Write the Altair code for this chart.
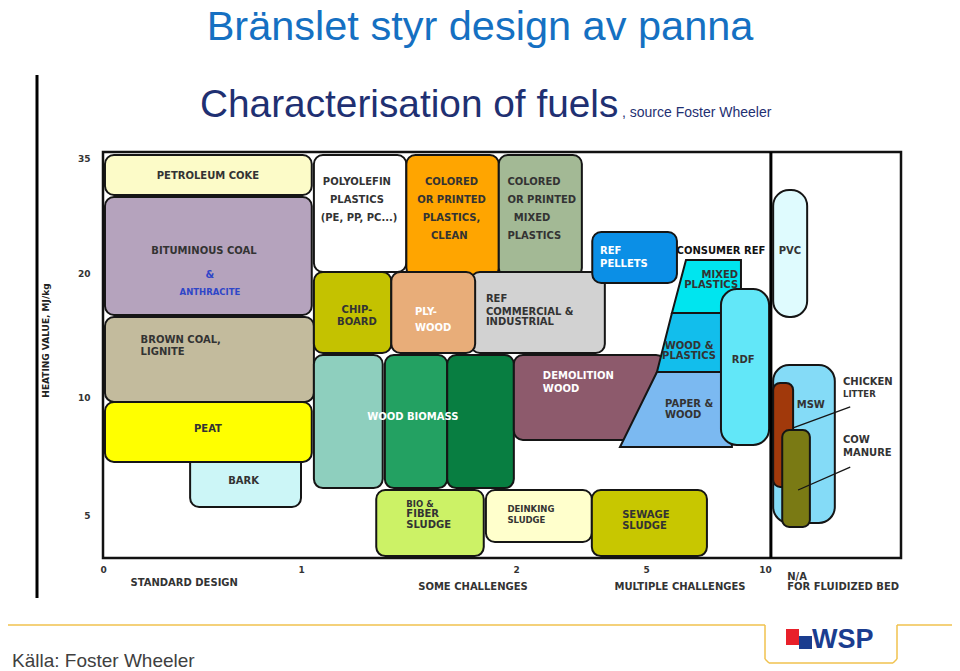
import altair as alt
import pandas as pd

# ---------------- axis ticks (non-linear, as printed in the figure) ----------------
X_TICKS = [0, 1, 2, 5, 10]
Y_TICKS = [5, 10, 20, 35]
X_BREAKS = [0, 1, 2, 5, 10, 13]
Y_BREAKS = [3.2, 5, 10, 20, 35, 35.8]
DIVIDER_X = [10.13]

# ---------------- fuel boxes: design range (x) and heating value range (y) ----------------
box_name = ["Petroleum coke", "Bituminous coal", "Brown coal", "Bark", "Peat",
            "Polyolefin plastics", "Colored plastics clean", "Colored mixed plastics",
            "REF commercial", "Chipboard", "Plywood", "REF pellets",
            "Wood biomass 1", "Wood biomass 2", "Wood biomass 3", "Demolition wood",
            "Bio & fiber sludge", "Deinking sludge", "Sewage sludge"]
box_x_lo = [0.01, 0.01, 0.01, 0.44, 0.01, 1.06, 1.49, 1.92, 1.79, 1.06, 1.42, 3.76,
            1.06, 1.39, 1.68, 1.99, 1.35, 1.86, 3.75]
box_x_hi = [1.05, 1.05, 1.06, 1.00, 1.05, 1.49, 1.92, 3.52, 4.05, 1.42, 1.81, 6.30,
            1.38, 1.68, 1.99, 5.80, 1.85, 3.75, 7.56]
box_y_lo = [30.17, 16.61, 9.79, 5.34, 7.25, 20.13, 19.68, 19.68, 13.55, 13.55, 13.55, 19.19,
            6.14, 6.14, 6.14, 8.18, 3.28, 3.87, 3.28]
box_y_hi = [35.4, 29.91, 16.45, 7.6, 9.79, 35.4, 35.4, 35.4, 20.13, 20.13, 20.13, 25.35,
            13.39, 13.39, 13.39, 13.39, 6.06, 6.06, 6.06]
box_fill = ["#FCFBC8", "#B5A3BD", "#C3BB9D", "#CCF6F7", "#FFFF00",
            "#FFFFFF", "#FFA500", "#A3B995",
            "#D2D2D2", "#C4C200", "#E8AD79", "#0B8FE6",
            "#8ECFBE", "#23A162", "#087E41", "#8D5A6C",
            "#CCF266", "#FFFFCC", "#C8C700"]

# consumer REF (slanted shapes)
trap_name = ["Mixed plastics", "Mixed plastics", "Wood & plastics", "Wood & plastics",
             "Paper & wood", "Paper & wood"]
trap_y = [21.70, 16.77, 16.77, 12.02, 12.02, 7.88]
trap_x_left = [6.68, 6.09, 6.09, 5.46, 5.46, 4.40]
trap_x_right = [8.99, 8.99, 8.61, 8.61, 8.61, 8.61]
trap_fill = ["#00E5EF", "#00E5EF", "#12BEEC", "#12BEEC", "#7BB9F1", "#7BB9F1"]

# pill shaped fuels
pill_name = ["PVC", "RDF", "MSW"]
pill_x_lo = [10.18, 8.15, 10.18]
pill_x_hi = [10.93, 10.09, 11.54]
pill_y_lo = [16.45, 7.97, 4.67]
pill_y_hi = [30.83, 18.71, 12.58]
pill_fill = ["#DFFBFE", "#62E7F8", "#84DBF7"]

small_name = ["Chicken litter", "Cow manure"]
small_x_lo = [10.18, 10.38]
small_x_hi = [10.62, 10.99]
small_y_lo = [6.19, 4.50]
small_y_hi = [11.13, 8.60]
small_fill = ["#A1390B", "#7A7A14"]

# leader lines from the side labels
lead_x1 = [11.88, 11.88]
lead_y1 = [9.58, 7.03]
lead_x2 = [10.62, 10.73]
lead_y2 = [8.69, 6.06]

# ---------------- labels ----------------
label_text = ["PETROLEUM COKE", "BITUMINOUS COAL", "&", "ANTHRACITE", "BROWN COAL,", "LIGNITE",
              "PEAT", "BARK",
              "POLYOLEFIN", "PLASTICS", "(PE, PP, PC...)",
              "COLORED", "OR PRINTED", "PLASTICS,", "CLEAN",
              "COLORED", "OR PRINTED", "MIXED", "PLASTICS",
              "CHIP-", "BOARD", "PLY-", "WOOD",
              "REF", "COMMERCIAL &", "INDUSTRIAL",
              "REF", "PELLETS", "CONSUMER REF", "MIXED", "PLASTICS",
              "WOOD &", "PLASTICS", "PAPER &", "WOOD", "RDF", "PVC",
              "WOOD BIOMASS", "DEMOLITION", "WOOD",
              "BIO &", "FIBER", "SLUDGE", "DEINKING", "SLUDGE", "SEWAGE", "SLUDGE",
              "MSW", "CHICKEN", "LITTER", "COW", "MANURE",
              "STANDARD DESIGN", "SOME CHALLENGES", "MULTIPLE CHALLENGES", "N/A",
              "FOR FLUIDIZED BED"]
label_x = [0.53, 0.51, 0.54, 0.54, 0.19, 0.19,
           0.53, 0.71,
           1.26, 1.26, 1.27,
           1.70, 1.70, 1.70, 1.69,
           1.96, 1.96, 1.99, 1.96,
           1.26, 1.26, 1.53, 1.53,
           1.86, 1.86, 1.86,
           3.94, 3.94, 8.15, 8.87, 8.87,
           6.81, 6.81, 5.80, 5.80, 9.08, 10.55,
           1.52, 2.62, 2.62,
           1.49, 1.49, 1.49, 1.96, 1.96, 4.45, 4.45,
           11.01, 11.72, 11.72, 11.72, 11.72,
           0.41, 1.80, 6.43, 10.49, 10.49]
label_y = [32.65, 22.87, 19.84, 18.47, 14.60, 13.63,
           8.64, 6.44,
           31.87, 29.52, 27.17,
           31.87, 29.52, 27.17, 24.83,
           31.87, 29.52, 27.17, 24.83,
           17.02, 16.05, 16.85, 15.56,
           17.90, 16.85, 16.05,
           22.87, 21.17, 22.87, 19.84, 19.03,
           14.11, 13.31, 9.70, 9.24, 12.98, 22.87,
           9.15, 11.69, 10.65,
           5.47, 5.04, 4.58, 5.25, 4.79, 5.00, 4.54,
           9.66, 11.21, 10.24, 8.18, 7.63,
           2.15, 1.99, 1.99, 2.40, 1.99]
label_align = ["center", "center", "center", "center", "left", "left",
               "center", "center",
               "center", "center", "center",
               "center", "center", "center", "center",
               "left", "left", "left", "left",
               "center", "center", "left", "left",
               "left", "left", "left",
               "left", "left", "center", "right", "right",
               "center", "center", "left", "left", "center", "center",
               "center", "left", "left",
               "left", "left", "left", "left", "left", "left", "left",
               "center", "left", "left", "left", "left",
               "center", "center", "center", "left", "left"]
label_tone = ["dark", "dark", "blue", "blue", "dark", "dark",
              "dark", "dark",
              "dark", "dark", "dark",
              "dark", "dark", "dark", "dark",
              "dark", "dark", "dark", "dark",
              "dark", "dark", "white", "white",
              "dark", "dark", "dark",
              "white", "white", "black", "dark", "dark",
              "dark", "dark", "dark", "dark", "dark", "dark",
              "white", "white", "white",
              "dark", "dark", "dark", "dark", "dark", "dark", "dark",
              "dark", "dark", "dark", "dark", "dark",
              "dark", "dark", "dark", "dark", "dark"]
label_class = ["n", "n", "n", "s", "n", "n",
               "n", "n",
               "n", "n", "n",
               "n", "n", "n", "n",
               "n", "n", "n", "n",
               "n", "n", "n", "n",
               "n", "n", "n",
               "n", "n", "n", "n", "n",
               "n", "n", "n", "n", "n", "n",
               "n", "n", "n",
               "s", "n", "n", "s", "s", "n", "n",
               "n", "n", "s", "n", "n",
               "n", "n", "n", "n", "n"]

TONES = {"dark": "#333333", "white": "#FFFFFF", "blue": "#2E46C8", "black": "#111111"}
SIZES = {"n": 10, "s": 8.5}

# ---------------- tables ----------------
box_df = pd.DataFrame({"name": box_name, "x1": box_x_lo, "x2": box_x_hi,
                       "y1": box_y_lo, "y2": box_y_hi, "fill": box_fill})
trap_df = pd.DataFrame({"name": trap_name, "y": trap_y, "xl": trap_x_left,
                        "xr": trap_x_right, "fill": trap_fill})
pill_df = pd.DataFrame({"name": pill_name, "x1": pill_x_lo, "x2": pill_x_hi,
                        "y1": pill_y_lo, "y2": pill_y_hi, "fill": pill_fill})
small_df = pd.DataFrame({"name": small_name, "x1": small_x_lo, "x2": small_x_hi,
                         "y1": small_y_lo, "y2": small_y_hi, "fill": small_fill})
lead_df = pd.DataFrame({"x1": lead_x1, "y1": lead_y1, "x2": lead_x2, "y2": lead_y2})
label_df = pd.DataFrame({"text": label_text, "x": label_x, "y": label_y, "align": label_align,
                         "color": [TONES[t] for t in label_tone],
                         "size": [SIZES[c] for c in label_class]})
div_df = pd.DataFrame({"x": DIVIDER_X})
one_row = pd.DataFrame({"k": [0]})

# ---------------- scales & axes ----------------
x_scale = alt.Scale(domain=X_BREAKS, range=[0, 198, 413, 543, 662, 798], nice=False, zero=False)
y_scale = alt.Scale(domain=Y_BREAKS, range=[406, 363, 245, 121, 6, 0], nice=False, zero=False)

x_axis = alt.Axis(values=X_TICKS, title=None, labelFont="DejaVu Sans", labelFontWeight="bold",
                  labelFontSize=9, labelColor="#333333", labelPadding=7, ticks=False,
                  domain=False, grid=False, labelFlush=False, labelOverlap=False)
y_axis = alt.Axis(values=Y_TICKS, title="HEATING VALUE, MJ/kg", titleX=-58, titleY=188,
                  titleAngle=270, titleAlign="center", titleBaseline="middle",
                  titleFont="DejaVu Sans", titleFontWeight="bold", titleFontSize=9,
                  titleColor="#222222", labelFont="DejaVu Sans", labelFontWeight="bold",
                  labelFontSize=9, labelColor="#333333", labelPadding=13, ticks=False,
                  domain=False, grid=False, labelFlush=False, labelOverlap=False)


def X(field, **kw):
    return alt.X(field, type="quantitative", scale=x_scale, axis=x_axis, **kw)


def Y(field):
    return alt.Y(field, type="quantitative", scale=y_scale, axis=y_axis)


STROKE = "#151515"

boxes = alt.Chart(box_df).mark_rect(cornerRadius=9, stroke=STROKE, strokeWidth=2).encode(
    x=X("x1"), x2="x2:Q", y=Y("y1"), y2="y2:Q",
    color=alt.Color("fill:N", scale=None),
)

traps = alt.Chart(trap_df).mark_area(orient="horizontal", stroke=STROKE, strokeWidth=2,
                                     interpolate="linear").encode(
    y=Y("y"), x=X("xl", stack=None), x2="xr:Q",
    detail="name:N",
    color=alt.Color("fill:N", scale=None),
)

pills = alt.Chart(pill_df).mark_rect(cornerRadius=16, stroke=STROKE, strokeWidth=2).encode(
    x=X("x1"), x2="x2:Q", y=Y("y1"), y2="y2:Q",
    color=alt.Color("fill:N", scale=None),
)

smalls = alt.Chart(small_df).mark_rect(cornerRadius=7, stroke=STROKE, strokeWidth=2).encode(
    x=X("x1"), x2="x2:Q", y=Y("y1"), y2="y2:Q",
    color=alt.Color("fill:N", scale=None),
)

divider = alt.Chart(div_df).mark_rule(color="#000000", strokeWidth=3).encode(x=X("x"))

leaders = alt.Chart(lead_df).mark_rule(color=STROKE, strokeWidth=1.3).encode(
    x=X("x1"), x2="x2:Q", y=Y("y1"), y2="y2:Q",
)

label_layers = []
for a in ["center", "left", "right"]:
    label_layers.append(
        alt.Chart(label_df).transform_filter(alt.datum.align == a).mark_text(
            align=a, baseline="middle", font="DejaVu Sans", fontWeight="bold").encode(
            x=X("x"), y=Y("y"),
            text="text:N",
            color=alt.Color("color:N", scale=None),
            size=alt.Size("size:Q", scale=None),
        )
    )


# ---------------- slide decorations (title, frame line, footer) ----------------
def deco_text(text, x, y, size, color, weight="normal", align="left"):
    return alt.Chart(one_row).mark_text(text=text, align=align, baseline="alphabetic",
                                        font="Liberation Sans", fontSize=size,
                                        fontWeight=weight, color=color).encode(
        x=alt.value(x), y=alt.value(y))


def deco_rule(x, x2, y, y2, color, width):
    return alt.Chart(one_row).mark_rule(color=color, strokeWidth=width).encode(
        x=alt.value(x), x2=alt.value(x2), y=alt.value(y), y2=alt.value(y2))


def deco_rect(x, x2, y, y2, color):
    return alt.Chart(one_row).mark_rect(color=color).encode(
        x=alt.value(x), x2=alt.value(x2), y=alt.value(y), y2=alt.value(y2))


GOLD = "#F0C24E"
decos = [
    deco_text("Bränslet styr design av panna", 377, -112, 41.5, "#1570C2", align="center"),
    deco_text("Characterisation of fuels", 97, -35, 38.8, "#1F3072"),
    deco_text(", source Foster Wheeler", 519, -35, 14, "#1F3072"),
    deco_rule(-66, -66, -77, 446, "#000000", 3),
    deco_rule(-98, 662, 473, 473, GOLD, 1.5),
    deco_rule(662, 662, 473, 507, GOLD, 1.5),
    deco_rule(666, 790, 511, 511, GOLD, 1.5),
    deco_rule(794, 794, 507, 473, GOLD, 1.5),
    deco_rule(794, 854, 473, 473, GOLD, 1.5),
    deco_rule(662, 666, 507, 511, GOLD, 1.5),
    deco_rule(790, 794, 511, 507, GOLD, 1.5),
    deco_rect(683, 696, 477, 493, "#E8202A"),
    deco_rect(696, 709, 484, 497, "#1B3D8F"),
    deco_text("WSP", 709, 496, 27, "#1B3D8F", weight="bold"),
    deco_text("Källa: Foster Wheeler", -91, 515, 19, "#404040"),
]

chart = alt.layer(boxes, traps, pills, smalls, divider, leaders, *label_layers, *decos).properties(
    width=798, height=406,
    autosize=alt.AutoSizeParams(type="none"),
    padding={"left": 95, "top": 144, "right": 51, "bottom": 113},
    background="white",
).configure_view(stroke="#111111", strokeWidth=2.5)

chart.save("out.html", embed_options={"renderer": "svg", "actions": False})
